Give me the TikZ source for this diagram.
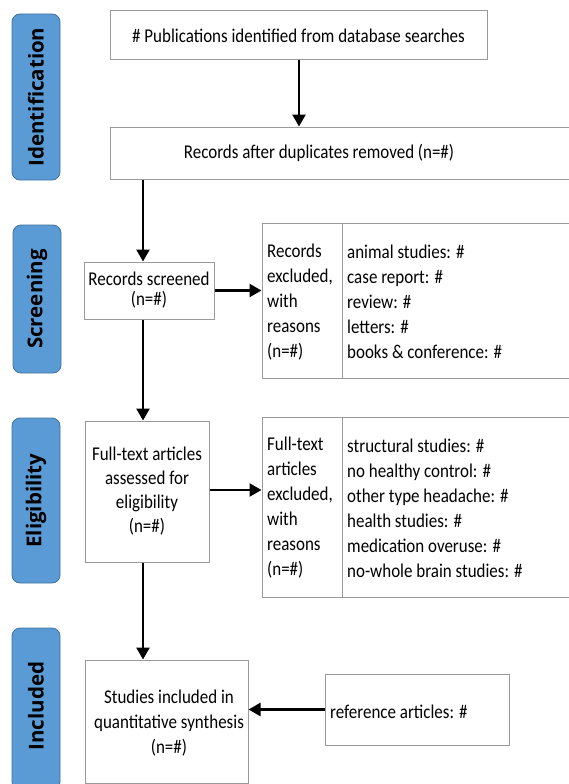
\documentclass[tikz,border=0pt]{standalone}
\usepackage{fontspec}
\setmainfont{Carlito}[FakeStretch=0.87]
\newfontfamily\labfont{Open Sans}
\usetikzlibrary{arrows.meta}
\definecolor{labblue}{HTML}{5B9BD5}
\definecolor{labedge}{HTML}{41719C}
\definecolor{boxedge}{HTML}{9A9A9A}
\begin{document}
\begin{tikzpicture}[x=1pt,y=-1pt,
  phase/.style={draw=labedge,fill=labblue,line width=0.8pt,rounded corners=8pt,minimum width=48pt,inner sep=0pt},
  phasetext/.style={rotate=90,font=\labfont\bfseries\fontsize{20.5}{22}\selectfont,text=black},
  boxn/.style={draw=boxedge,line width=1pt,fill=white,inner sep=0pt},
  txt/.style={font=\fontsize{19.5}{25}\selectfont,inner sep=0pt},
  arr/.style={line width=2.4pt,-{Triangle[width=13pt,length=12pt]}}]
\useasboundingbox (0,0) rectangle (569,784);
\clip (0,0) rectangle (569,784);
\fill[white] (0,0) rectangle (569,784);
% phase labels
\node[phase,minimum height=166pt] (l1) at (36,97) {};
\node[phasetext] (l1t) at (l1.center) {Identification};
\node[phase,minimum height=148pt] (l2) at (37,299) {};
\node[phasetext] (l2t) at (l2.center) {Screening};
\node[phase,minimum height=165pt] (l3) at (36,500.5) {};
\node[phasetext] (l3t) at (l3.center) {Eligibility};
\node[phase,minimum height=162pt] (l4) at (36,709) {};
\node[phasetext] (l4t) at (36,706) {Included};
% boxes
\node[boxn,minimum width=377pt,minimum height=49pt] (b1) at (298.5,35.5) {};
\node[txt] (b1t) at (b1.center) {\# Publications identified from database searches};
\node[boxn,minimum width=470pt,minimum height=52pt] (b2) at (345,153) {};
\node[txt] (b2t) at (319,153) {Records after duplicates removed (n=\#)};
\node[boxn,minimum width=130pt,minimum height=57pt] (scr) at (149,290.5) {};
\node[txt,align=center,font=\fontsize{19.5}{20.5}\selectfont] (scrt) at (149,290) {Records screened\\(n=\#)};
\node[boxn,minimum width=320pt,minimum height=155pt] (ex1) at (422,300.5) {};
\draw[boxedge,line width=1pt] (ex1.north -| 342,0) -- (ex1.south -| 342,0);
\node[txt,align=left,anchor=west] (ex1l) at (267,302) {Records\\excluded,\\with\\reasons\\(n=\#)};
\node[txt,align=left,anchor=west] (ex1r) at (347,302) {animal studies: \#\\case report: \#\\review: \#\\letters: \#\\books \& conference: \#};
\node[boxn,minimum width=124pt,minimum height=141pt] (ft) at (147,491.5) {};
\node[txt,align=center,font=\fontsize{19.5}{24}\selectfont] (ftt) at (147,491) {Full-text articles\\assessed for\\eligibility\\(n=\#)};
\node[boxn,minimum width=320pt,minimum height=180pt] (ex2) at (422,507) {};
\draw[boxedge,line width=1pt] (ex2.north -| 342,0) -- (ex2.south -| 342,0);
\node[txt,align=left,anchor=west] (ex2l) at (267,508) {Full-text\\articles\\excluded,\\with\\reasons\\(n=\#)};
\node[txt,align=left,anchor=west] (ex2r) at (347,508) {structural studies: \#\\no healthy control: \#\\other type headache: \#\\health studies: \#\\medication overuse: \#\\no-whole brain studies: \#};
\node[boxn,minimum width=163pt,minimum height=123pt] (st) at (166.5,721.5) {};
\node[txt,align=center] (stt) at (169,723) {Studies included in\\quantitative synthesis\\(n=\#)};
\node[boxn,minimum width=184pt,minimum height=71pt] (ref) at (417,709.5) {};
\node[txt,anchor=west] (reft) at (330,712) {reference articles: \#};
% connectors
\coordinate (c1) at (143,0);
\draw[arr] (b1.south -| 299,0) -- (b2.north -| 299,0);
\draw[arr] (b2.south -| c1) -- (scr.north -| c1);
\draw[arr] (scr.south -| c1) -- (ft.north -| c1);
\draw[arr] (ft.south -| c1) -- (st.north -| c1);
\draw[arr] (scr.east) -- (scr.east -| ex1.west);
\draw[arr] (ft.east |- 0,490) -- (ex2.west |- 0,490);
\draw[arr] (ref.west) -- (st.east |- ref.west);
\end{tikzpicture}
\end{document}
